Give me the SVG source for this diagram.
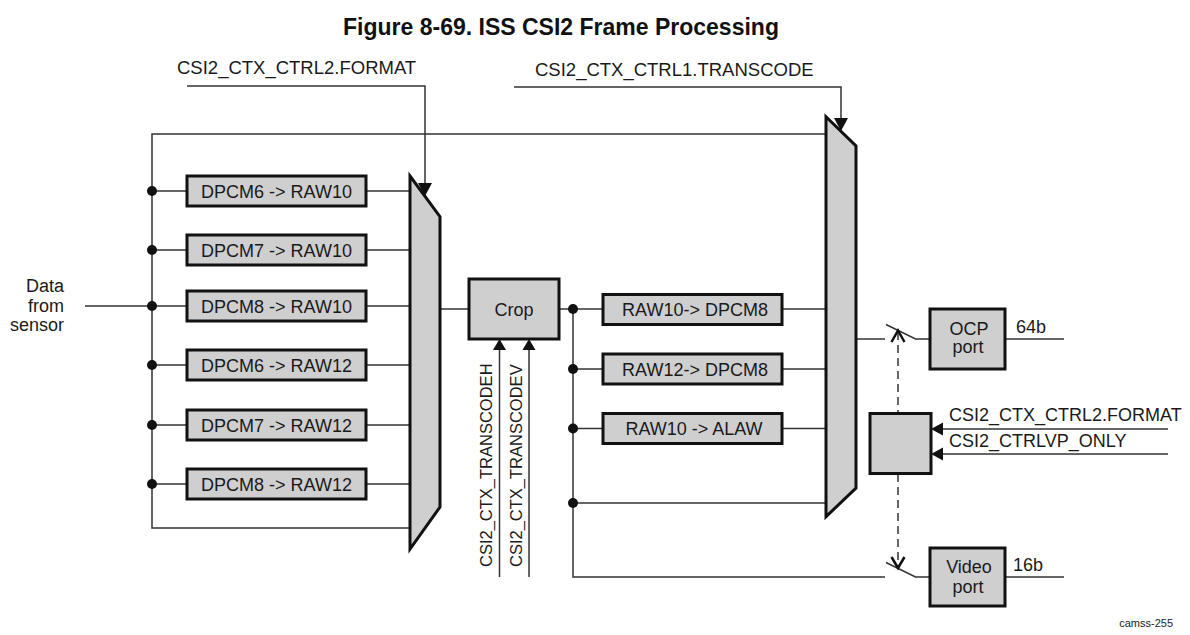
<svg xmlns="http://www.w3.org/2000/svg" width="1190" height="635" viewBox="0 0 1190 635">
<defs>
<style>
.t{font-family:"Liberation Sans",Arial,sans-serif;font-size:18px;fill:#1a1a1a}
.lbl{font-family:"Liberation Sans",Arial,sans-serif;font-size:18.5px;fill:#1a1a1a}
.vt{font-family:"Liberation Sans",Arial,sans-serif;font-size:16.5px;fill:#1a1a1a}
.box{fill:#cfcfcf;stroke:#111;stroke-width:3}
.w{fill:none;stroke:#333;stroke-width:1.5}
.dash{fill:none;stroke:#333;stroke-width:1.5;stroke-dasharray:8,5}
.chev{fill:none;stroke:#111;stroke-width:2.5}
.dot{fill:#111}
.ah{fill:#111}
</style>
</defs>
<rect width="1190" height="635" fill="#fff"/>
<text x="561" y="35" text-anchor="middle" style="font-family:'Liberation Sans',Arial,sans-serif;font-size:23px;font-weight:bold;fill:#111">Figure 8-69. ISS CSI2 Frame Processing</text>

<g id="connectors">
<!-- FORMAT control -->
<polyline class="w" points="187,86 425,86 425,184"/>
<polygon class="ah" points="418,183 432,183 425,196"/>
<!-- TRANSCODE control -->
<polyline class="w" points="514,87 841,87 841,119"/>
<polygon class="ah" points="834,118 848,118 841,131"/>
<!-- left loop bus -->
<polyline class="w" points="826,134 152,134 152,528 410,528"/>
<!-- data in -->
<line class="w" x1="85" y1="306" x2="152" y2="306"/>
<!-- left rows -->
<line class="w" x1="152" y1="191" x2="187" y2="191"/><line class="w" x1="366" y1="191" x2="410" y2="191"/>
<line class="w" x1="152" y1="250" x2="187" y2="250"/><line class="w" x1="366" y1="250" x2="410" y2="250"/>
<line class="w" x1="152" y1="306" x2="187" y2="306"/><line class="w" x1="366" y1="306" x2="410" y2="306"/>
<line class="w" x1="152" y1="365" x2="187" y2="365"/><line class="w" x1="366" y1="365" x2="410" y2="365"/>
<line class="w" x1="152" y1="425" x2="187" y2="425"/><line class="w" x1="366" y1="425" x2="410" y2="425"/>
<line class="w" x1="152" y1="484" x2="187" y2="484"/><line class="w" x1="366" y1="484" x2="410" y2="484"/>
<circle class="dot" cx="152" cy="191" r="5"/>
<circle class="dot" cx="152" cy="250" r="5"/>
<circle class="dot" cx="152" cy="306" r="5"/>
<circle class="dot" cx="152" cy="365" r="5"/>
<circle class="dot" cx="152" cy="425" r="5"/>
<circle class="dot" cx="152" cy="484" r="5"/>
<!-- mux1 to crop -->
<line class="w" x1="440" y1="309" x2="469" y2="309"/>
<!-- crop inputs -->
<line class="w" x1="499.5" y1="349" x2="499.5" y2="577"/>
<polygon class="ah" points="493,350 506,350 499.5,339"/>
<line class="w" x1="529" y1="349" x2="529" y2="577"/>
<polygon class="ah" points="522.5,350 535.5,350 529,339"/>
<!-- right bus -->
<line class="w" x1="559" y1="309" x2="603" y2="309"/>
<polyline class="w" points="573,309 573,577 885,577"/>
<line class="w" x1="573" y1="369" x2="603" y2="369"/>
<line class="w" x1="573" y1="428.5" x2="603" y2="428.5"/>
<line class="w" x1="573" y1="503" x2="826" y2="503"/>
<line class="w" x1="782" y1="309" x2="826" y2="309"/>
<line class="w" x1="782" y1="369" x2="826" y2="369"/>
<line class="w" x1="782" y1="428.5" x2="826" y2="428.5"/>
<circle class="dot" cx="573" cy="309" r="5"/>
<circle class="dot" cx="573" cy="369" r="5"/>
<circle class="dot" cx="573" cy="428.5" r="5"/>
<circle class="dot" cx="573" cy="503" r="5"/>
<!-- output switch OCP -->
<line class="w" x1="856" y1="339" x2="885" y2="339"/>
<polyline class="w" points="886,324.5 915.5,339 930,339"/>
<line class="w" x1="1005" y1="339" x2="1064" y2="339"/>
<!-- output switch Video -->
<polyline class="w" points="886,562.5 915.5,577 930,577"/>
<line class="w" x1="1005" y1="577" x2="1064" y2="577"/>
<!-- dashed control -->
<line class="dash" x1="898" y1="332" x2="898" y2="413"/>
<polyline class="chev" points="891.5,342 898,330.5 904.5,342"/>
<line class="dash" x1="898" y1="474" x2="898" y2="566"/>
<polyline class="chev" points="891.5,557 898,568 904.5,557"/>
<!-- control box inputs -->
<line class="w" x1="942" y1="429" x2="1168" y2="429"/>
<polygon class="ah" points="943,422.5 943,435.5 931,429"/>
<line class="w" x1="942" y1="454" x2="1168" y2="454"/>
<polygon class="ah" points="943,447.5 943,460.5 931,454"/>
</g>

<g id="mux1"><polygon class="box" points="410,176 440,216.7 440,507 410,549"/></g>
<g id="mux2"><polygon class="box" points="826,116.7 856,146 856,488 826,516.7"/></g>

<g id="dpcm6_raw10"><rect class="box" x="187" y="176" width="179" height="30"/><text class="t" x="276.5" y="197.5" text-anchor="middle">DPCM6 -&gt; RAW10</text></g>
<g id="dpcm7_raw10"><rect class="box" x="187" y="235" width="179" height="30"/><text class="t" x="276.5" y="256.5" text-anchor="middle">DPCM7 -&gt; RAW10</text></g>
<g id="dpcm8_raw10"><rect class="box" x="187" y="291" width="179" height="30"/><text class="t" x="276.5" y="312.5" text-anchor="middle">DPCM8 -&gt; RAW10</text></g>
<g id="dpcm6_raw12"><rect class="box" x="187" y="350" width="179" height="30"/><text class="t" x="276.5" y="371.5" text-anchor="middle">DPCM6 -&gt; RAW12</text></g>
<g id="dpcm7_raw12"><rect class="box" x="187" y="410" width="179" height="30"/><text class="t" x="276.5" y="431.5" text-anchor="middle">DPCM7 -&gt; RAW12</text></g>
<g id="dpcm8_raw12"><rect class="box" x="187" y="469" width="179" height="30"/><text class="t" x="276.5" y="490.5" text-anchor="middle">DPCM8 -&gt; RAW12</text></g>

<g id="crop"><rect class="box" x="469" y="279" width="90" height="60"/><text class="t" x="514" y="315.5" text-anchor="middle">Crop</text></g>

<g id="raw10_dpcm8"><rect class="box" x="603" y="294.5" width="179" height="30"/><text class="t" x="695" y="316" text-anchor="middle">RAW10-&gt; DPCM8</text></g>
<g id="raw12_dpcm8"><rect class="box" x="603" y="354" width="179" height="30"/><text class="t" x="695" y="375.5" text-anchor="middle">RAW12-&gt; DPCM8</text></g>
<g id="raw10_alaw"><rect class="box" x="603" y="413.5" width="179" height="30"/><text class="t" x="694" y="435" text-anchor="middle">RAW10 -&gt; ALAW</text></g>

<g id="ocp_port"><rect class="box" x="930" y="309" width="75" height="60"/><text class="t" x="969" y="335" text-anchor="middle">OCP</text><text class="t" x="968" y="353" text-anchor="middle">port</text></g>
<g id="video_port"><rect class="box" x="930" y="548" width="75" height="58"/><text class="t" x="969" y="573" text-anchor="middle">Video</text><text class="t" x="968" y="593" text-anchor="middle">port</text></g>
<g id="ctrl"><rect class="box" x="870" y="413.5" width="61" height="60"/></g>

<g id="labels">
<text class="lbl" x="177" y="74">CSI2_CTX_CTRL2.FORMAT</text>
<text class="lbl" x="535" y="76">CSI2_CTX_CTRL1.TRANSCODE</text>
<text class="t" x="64" y="292" text-anchor="end">Data</text>
<text class="t" x="64" y="312" text-anchor="end">from</text>
<text class="t" x="64" y="331" text-anchor="end">sensor</text>
<text class="vt" transform="translate(492,567) rotate(-90)">CSI2_CTX_TRANSCODEH</text>
<text class="vt" transform="translate(522,567) rotate(-90)">CSI2_CTX_TRANSCODEV</text>
<text class="t" x="1016" y="333">64b</text>
<text class="t" x="1013" y="571">16b</text>
<text class="t" x="949" y="421">CSI2_CTX_CTRL2.FORMAT</text>
<text class="t" x="949" y="447">CSI2_CTRLVP_ONLY</text>
<text x="1173" y="627" text-anchor="end" style="font-family:'Liberation Sans',Arial,sans-serif;font-size:11px;fill:#222">camss-255</text>
</g>
</svg>
